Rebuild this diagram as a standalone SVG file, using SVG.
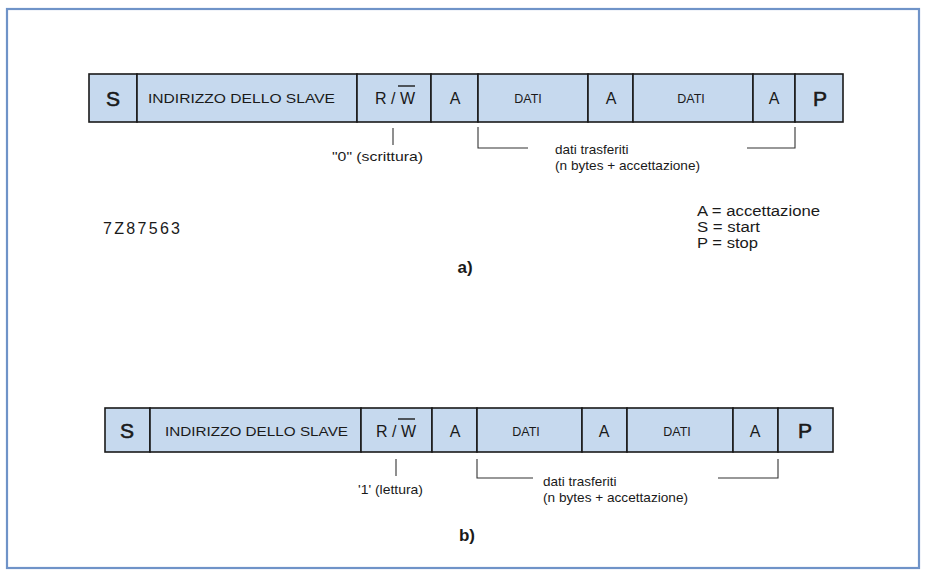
<svg xmlns="http://www.w3.org/2000/svg" width="926" height="570" viewBox="0 0 926 570">
  <style>
    .cell { fill: #c6d9ee; stroke: #1a1a1a; stroke-width: 1.6; }
    .t { font-family: "Liberation Sans", Arial, sans-serif; fill: #1a1a1a; }
    .big { font-size: 21px; text-anchor: middle; stroke: #1a1a1a; stroke-width: 0.6; }
    .mid { font-size: 16px; text-anchor: middle; }
    .small { font-size: 12.5px; text-anchor: middle; }
    .addr { font-size: 13px; }
    .note { font-size: 13.5px; }
    .leg { font-size: 14px; }
    .conn line, .conn polyline { fill: none; stroke: #333; stroke-width: 1.1; }
    .frame { fill: none; stroke: #6f93c8; stroke-width: 2.2; }
  </style>
  <rect x="0" y="0" width="926" height="570" fill="#ffffff"/>
  <rect class="frame" x="7" y="9" width="912" height="559"/>

  <!-- frame a) : write -->
  <g id="a-S"><rect class="cell" x="89" y="74" width="48" height="48"/><text class="t big" x="113" y="106">S</text></g>
  <g id="a-addr"><rect class="cell" x="137" y="74" width="220" height="48"/><text class="t addr" x="148" y="103" textLength="187" lengthAdjust="spacingAndGlyphs">INDIRIZZO DELLO SLAVE</text></g>
  <g id="a-rw"><rect class="cell" x="357" y="74" width="74" height="48"/><text class="t mid" x="395" y="104">R / W</text><line x1="398" y1="86" x2="415" y2="86" stroke="#1a1a1a" stroke-width="1.4"/></g>
  <g id="a-A1"><rect class="cell" x="431" y="74" width="47" height="48"/><text class="t mid" x="455" y="104">A</text></g>
  <g id="a-D1"><rect class="cell" x="478" y="74" width="110" height="48"/><text class="t small" x="528" y="103">DATI</text></g>
  <g id="a-A2"><rect class="cell" x="588" y="74" width="45" height="48"/><text class="t mid" x="611" y="104">A</text></g>
  <g id="a-D2"><rect class="cell" x="633" y="74" width="120" height="48"/><text class="t small" x="691" y="103">DATI</text></g>
  <g id="a-A3"><rect class="cell" x="753" y="74" width="42" height="48"/><text class="t mid" x="774" y="104">A</text></g>
  <g id="a-P"><rect class="cell" x="795" y="74" width="48" height="48"/><text class="t big" x="820" y="106">P</text></g>

  <g id="a-labels">
    <text class="t note" x="332" y="161" textLength="91" lengthAdjust="spacingAndGlyphs">"0" (scrittura)</text>
    <text class="t note" x="555" y="154">dati trasferiti</text>
    <text class="t note" x="555" y="170" textLength="145" lengthAdjust="spacingAndGlyphs">(n bytes + accettazione)</text>
    <text class="t" x="103" y="234" font-size="16" textLength="77" lengthAdjust="spacing">7Z87563</text>
    <text class="t leg" x="697" y="216" textLength="123" lengthAdjust="spacingAndGlyphs">A = accettazione</text>
    <text class="t leg" x="697" y="232" textLength="63" lengthAdjust="spacingAndGlyphs">S = start</text>
    <text class="t leg" x="697" y="248" textLength="61" lengthAdjust="spacingAndGlyphs">P = stop</text>
    <text class="t" x="465" y="273" font-size="17" font-weight="bold" text-anchor="middle">a)</text>
  </g>

  <!-- frame b) : read -->
  <g id="b-S"><rect class="cell" x="105" y="408" width="45" height="44"/><text class="t big" x="127" y="438">S</text></g>
  <g id="b-addr"><rect class="cell" x="150" y="408" width="211" height="44"/><text class="t addr" x="165" y="436" textLength="183" lengthAdjust="spacingAndGlyphs">INDIRIZZO DELLO SLAVE</text></g>
  <g id="b-rw"><rect class="cell" x="361" y="408" width="71" height="44"/><text class="t mid" x="396" y="437">R / W</text><line x1="398" y1="419" x2="415" y2="419" stroke="#1a1a1a" stroke-width="1.4"/></g>
  <g id="b-A1"><rect class="cell" x="432" y="408" width="45" height="44"/><text class="t mid" x="455" y="437">A</text></g>
  <g id="b-D1"><rect class="cell" x="477" y="408" width="105" height="44"/><text class="t small" x="526" y="436">DATI</text></g>
  <g id="b-A2"><rect class="cell" x="582" y="408" width="45" height="44"/><text class="t mid" x="604" y="437">A</text></g>
  <g id="b-D2"><rect class="cell" x="627" y="408" width="106" height="44"/><text class="t small" x="677" y="436">DATI</text></g>
  <g id="b-A3"><rect class="cell" x="733" y="408" width="45" height="44"/><text class="t mid" x="755" y="437">A</text></g>
  <g id="b-P"><rect class="cell" x="778" y="408" width="55" height="44"/><text class="t big" x="805" y="438">P</text></g>

  <g id="b-labels">
    <text class="t note" x="358" y="494" textLength="65" lengthAdjust="spacingAndGlyphs">'1' (lettura)</text>
    <text class="t note" x="543" y="486">dati trasferiti</text>
    <text class="t note" x="543" y="502" textLength="145" lengthAdjust="spacingAndGlyphs">(n bytes + accettazione)</text>
    <text class="t" x="467" y="541" font-size="17" font-weight="bold" text-anchor="middle">b)</text>
  </g>

  <!-- ticks and brackets -->
  <g id="connectors" class="conn">
    <line x1="393" y1="128" x2="393" y2="145"/>
    <polyline points="478,127 478,148 528,148"/>
    <polyline points="747,148 795,148 795,127"/>
    <line x1="396" y1="459" x2="396" y2="476"/>
    <polyline points="477,459 477,478 533,478"/>
    <polyline points="718,478 778,478 778,459"/>
  </g>
</svg>
